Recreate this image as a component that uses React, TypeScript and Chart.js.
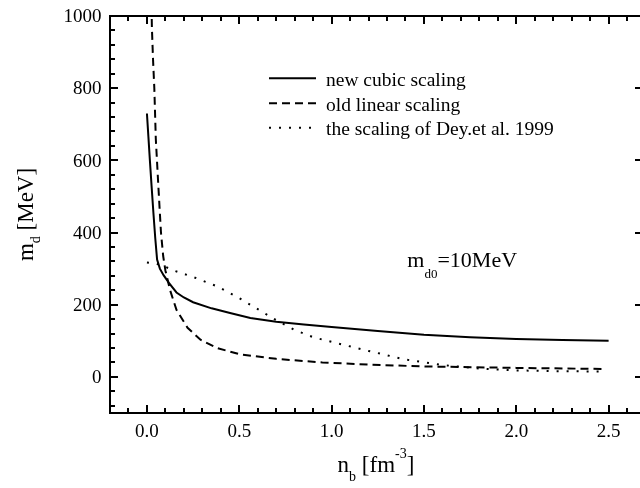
import React, { useEffect, useRef } from "react";
import { Chart, registerables } from "chart.js";

Chart.register(...registerables);

// ---- data ----
const cubicX = [0.0, 0.008, 0.016, 0.025, 0.035, 0.045, 0.055, 0.07, 0.09, 0.12, 0.16, 0.2, 0.25, 0.35, 0.45, 0.56, 0.7, 0.85, 1.0, 1.25, 1.5, 1.75, 2.0, 2.25, 2.5];
const cubicY = [730, 665, 600, 530, 455, 385, 325, 300, 282, 260, 234, 220, 207, 190, 177, 163, 153, 145, 138, 127, 117, 110, 105, 102, 100];

const linearX = [0.022, 0.027, 0.033, 0.04, 0.048, 0.062, 0.076, 0.088, 0.1, 0.125, 0.16, 0.22, 0.29, 0.38, 0.5, 0.7, 0.95, 1.2, 1.5, 2.0, 2.47];
const linearY = [1100, 966, 880, 800, 660, 527, 400, 335, 295, 241, 186, 136, 103, 80, 63, 50, 40, 34, 29, 25, 22];

const deyX = [0.0, 0.05, 0.1, 0.15, 0.25, 0.38, 0.5, 0.6, 0.7, 0.8, 0.9, 1.0, 1.2, 1.4, 1.6, 1.8, 2.0, 2.2, 2.45];
const deyY = [317, 314, 305, 294, 277, 251, 218, 188, 157, 130, 110, 97, 72, 48, 33, 23, 18, 16, 15];

const xMajorTicks = [0, 0.5, 1.0, 1.5, 2.0, 2.5];
const xTickLabels = ["0.0", "0.5", "1.0", "1.5", "2.0", "2.5"];
const yMajorTicks = [0, 200, 400, 600, 800, 1000];
const yTickLabels = ["0", "200", "400", "600", "800", "1000"];
const xMinorStep = 0.1;
const yMinorStep = 40;

const seriesLabels = ["new cubic scaling", "old linear scaling", "the scaling of Dey.et al. 1999"];
const seriesDashes: number[][] = [[], [8, 5], [2, 8]];

const X_MIN = -0.2;
const X_MAX = 2.67;
const Y_MIN = -100;
const Y_MAX = 1000;

const SERIF = '"Liberation Serif", "Times New Roman", serif';

function pts(xs: number[], ys: number[]) {
  return xs.map((x, i) => ({ x, y: ys[i] }));
}

type Piece = { t: string; size: number; dy: number };

function drawPieces(ctx: CanvasRenderingContext2D, pieces: Piece[], x: number, y: number, align: "left" | "center") {
  let w = 0;
  for (const p of pieces) {
    ctx.font = `${p.size}px ${SERIF}`;
    w += ctx.measureText(p.t).width;
  }
  let cx = align === "center" ? x - w / 2 : x;
  ctx.textAlign = "left";
  ctx.textBaseline = "alphabetic";
  for (const p of pieces) {
    ctx.font = `${p.size}px ${SERIF}`;
    ctx.fillText(p.t, cx, y + p.dy);
    cx += ctx.measureText(p.t).width;
  }
}

const decorPlugin = {
  id: "decor",
  afterDraw(chart: any) {
    const { ctx, chartArea: a } = chart;
    const xs = chart.scales.x;
    const ys = chart.scales.y;
    ctx.save();
    ctx.strokeStyle = "#000";
    ctx.fillStyle = "#000";
    ctx.setLineDash([]);
    ctx.lineWidth = 2;
    ctx.lineCap = "butt";

    // frame (left, top, bottom)
    ctx.beginPath();
    ctx.moveTo(a.left, a.top);
    ctx.lineTo(a.right, a.top);
    ctx.moveTo(a.left, a.top - 1);
    ctx.lineTo(a.left, a.bottom + 1);
    ctx.moveTo(a.left, a.bottom);
    ctx.lineTo(a.right, a.bottom);
    ctx.stroke();

    // x ticks (bottom and top, inward)
    ctx.beginPath();
    for (let k = Math.ceil(X_MIN / xMinorStep + 1e-9); k * xMinorStep <= X_MAX + 1e-9; k++) {
      const v = k * xMinorStep;
      const px = Math.round(xs.getPixelForValue(v));
      const major = xMajorTicks.some((m) => Math.abs(m - v) < 1e-6);
      const len = major ? 8 : 5;
      ctx.moveTo(px, a.bottom);
      ctx.lineTo(px, a.bottom - len);
      ctx.moveTo(px, a.top);
      ctx.lineTo(px, a.top + len);
    }
    // y ticks (left inward, right major only)
    for (let k = Math.ceil(Y_MIN / yMinorStep); k * yMinorStep <= Y_MAX; k++) {
      const v = k * yMinorStep;
      const py = Math.round(ys.getPixelForValue(v));
      const major = yMajorTicks.includes(v);
      const len = major ? 8 : 5;
      ctx.moveTo(a.left, py);
      ctx.lineTo(a.left + len, py);
    }
    for (const v of yMajorTicks) {
      const py = Math.round(ys.getPixelForValue(v));
      ctx.moveTo(a.right, py);
      ctx.lineTo(a.right - 5, py);
    }
    ctx.stroke();

    // tick labels
    ctx.font = `19px ${SERIF}`;
    ctx.textBaseline = "alphabetic";
    ctx.textAlign = "center";
    xMajorTicks.forEach((v, i) => {
      ctx.fillText(xTickLabels[i], xs.getPixelForValue(v), a.bottom + 23.5);
    });
    ctx.textAlign = "right";
    yMajorTicks.forEach((v, i) => {
      ctx.fillText(yTickLabels[i], a.left - 8.5, ys.getPixelForValue(v) + 6.3);
    });

    // x title: n_b [fm^-3]
    drawPieces(
      ctx,
      [
        { t: "n", size: 23, dy: 0 },
        { t: "b", size: 14, dy: 9 },
        { t: " [fm", size: 23, dy: 0 },
        { t: "-3", size: 14, dy: -14 },
        { t: "]", size: 23, dy: 0 },
      ],
      (a.left + a.right) / 2 + 1,
      472,
      "center"
    );

    // y title: m_d [MeV] (rotated)
    ctx.save();
    ctx.translate(33, (a.top + a.bottom) / 2);
    ctx.rotate(-Math.PI / 2);
    drawPieces(
      ctx,
      [
        { t: "m", size: 23, dy: 0 },
        { t: "d", size: 14, dy: 7 },
        { t: " [MeV]", size: 23, dy: 0 },
      ],
      0,
      0,
      "center"
    );
    ctx.restore();

    // legend
    const rows = [78.3, 103.3, 127.7];
    rows.forEach((ry, i) => {
      ctx.setLineDash(seriesDashes[i]);
      ctx.lineWidth = 2;
      ctx.beginPath();
      ctx.moveTo(269, ry);
      ctx.lineTo(316, ry);
      ctx.stroke();
      ctx.setLineDash([]);
      ctx.font = `19.5px ${SERIF}`;
      ctx.textAlign = "left";
      ctx.fillText(seriesLabels[i], 326, ry + 7.5);
    });

    // annotation m_d0 = 10MeV
    drawPieces(
      ctx,
      [
        { t: "m", size: 22, dy: 0 },
        { t: "d0", size: 13, dy: 11 },
        { t: "=10MeV", size: 22, dy: 0 },
      ],
      xs.getPixelForValue(1.41),
      ys.getPixelForValue(305),
      "left"
    );

    ctx.restore();
  },
};

export default function App() {
  const ref = useRef<HTMLCanvasElement | null>(null);

  useEffect(() => {
    if (!ref.current) return;
    const common = {
      borderColor: "#000",
      backgroundColor: "#000",
      borderWidth: 2,
      pointRadius: 0,
      tension: 0,
      fill: false,
      borderCapStyle: "butt" as const,
    };
    const chart = new Chart(ref.current, {
      type: "line",
      data: {
        datasets: [
          { ...common, label: seriesLabels[0], data: pts(cubicX, cubicY), borderDash: seriesDashes[0] },
          { ...common, label: seriesLabels[1], data: pts(linearX, linearY), borderDash: seriesDashes[1] },
          { ...common, label: seriesLabels[2], data: pts(deyX, deyY), borderDash: seriesDashes[2] },
        ],
      },
      options: {
        animation: false,
        responsive: false,
        devicePixelRatio: 1,
        parsing: false as any,
        layout: { padding: { left: 110, top: 16, right: 0, bottom: 75 } },
        plugins: { legend: { display: false }, tooltip: { enabled: false } },
        scales: {
          x: { type: "linear", min: X_MIN, max: X_MAX, display: false },
          y: { type: "linear", min: Y_MIN, max: Y_MAX, display: false },
        },
      },
      plugins: [decorPlugin],
    });
    return () => chart.destroy();
  }, []);

  return (
    <div style={{ position: "absolute", left: 0, top: 0, width: 640, height: 488, background: "#fff" }}>
      <canvas ref={ref} width={640} height={488} style={{ display: "block" }} />
    </div>
  );
}
